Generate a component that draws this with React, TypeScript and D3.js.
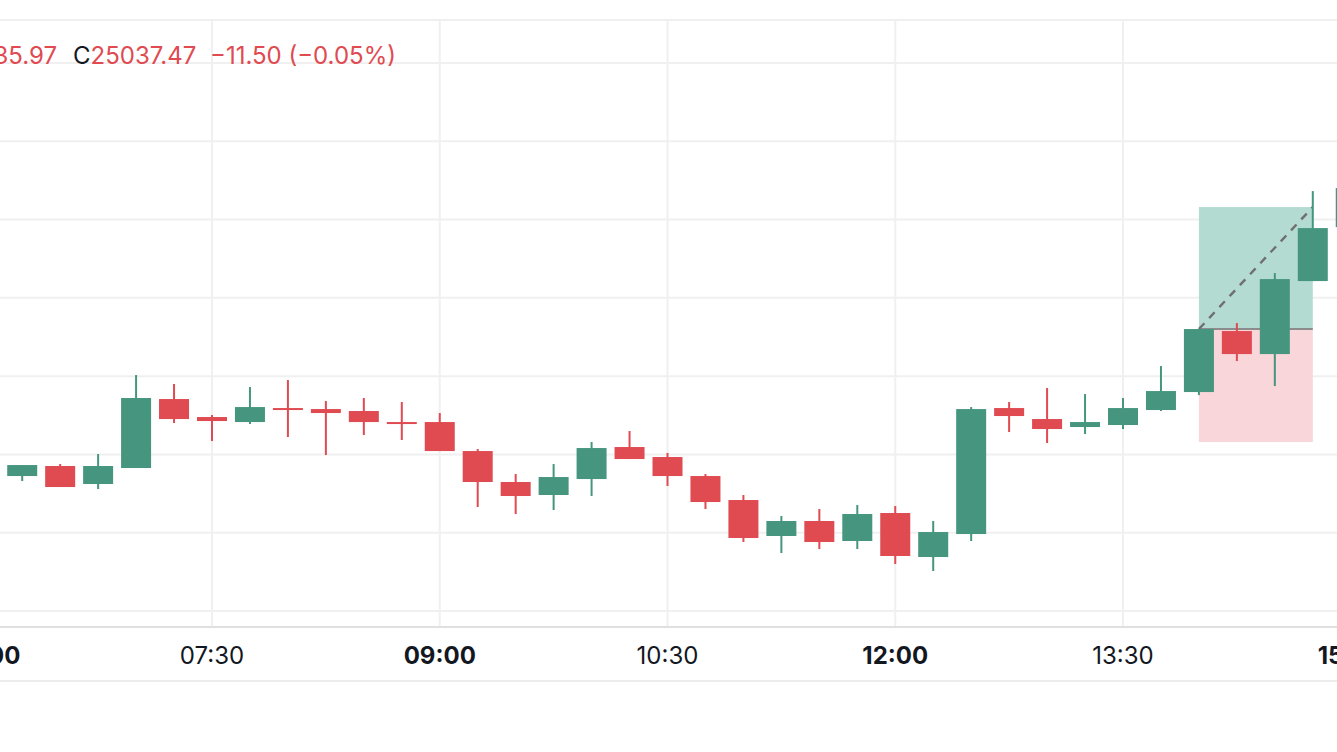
import { useEffect, useRef } from 'react'
import * as d3 from 'd3'

// 15-minute candles
const times = [
  '06:15', '06:30', '06:45', '07:00', '07:15', '07:30', '07:45', '08:00', '08:15',
  '08:30', '08:45', '09:00', '09:15', '09:30', '09:45', '10:00', '10:15', '10:30',
  '10:45', '11:00', '11:15', '11:30', '11:45', '12:00', '12:15', '12:30', '12:45',
  '13:00', '13:15', '13:30', '13:45', '14:00', '14:15', '14:30', '14:45', '15:00'
]
const opens = [
  24943.10, 24946.30, 24940.55, 24945.66, 24967.69, 24961.94, 24960.34, 24964.81, 24964.49,
  24963.86, 24960.34, 24960.34, 24951.08, 24941.19, 24937.04, 24942.14, 24952.36, 24949.17,
  24943.10, 24935.44, 24923.95, 24928.74, 24922.35, 24931.29, 24917.24, 24924.58, 24964.81,
  24961.30, 24958.75, 24959.39, 24964.18, 24969.92, 24989.40, 24982.05, 25005.36, 25022.60
]
const highs = [
  24946.61, 24946.93, 24950.13, 24975.35, 24972.48, 24962.58, 24971.52, 24973.75, 24967.05,
  24968.01, 24966.73, 24963.22, 24951.72, 24943.74, 24946.93, 24953.96, 24957.47, 24950.45,
  24943.74, 24937.04, 24930.33, 24932.57, 24933.84, 24933.52, 24928.74, 24965.13, 24966.73,
  24971.20, 24969.28, 24968.01, 24978.22, 24990.04, 24991.95, 25007.92, 25034.10, 25035.69
]
const lows = [
  24941.51, 24939.59, 24938.95, 24945.66, 24960.02, 24954.28, 24959.71, 24955.56, 24949.81,
  24956.19, 24954.60, 24951.08, 24933.21, 24930.97, 24932.25, 24936.72, 24948.53, 24939.91,
  24932.57, 24922.03, 24918.52, 24919.80, 24919.80, 24915.01, 24912.77, 24922.35, 24957.15,
  24953.64, 24956.51, 24958.11, 24963.86, 24968.96, 24979.82, 24971.84, 25005.36, 25021.96
]
const closes = [
  24946.61, 24939.59, 24946.30, 24968.01, 24961.30, 24960.66, 24965.13, 24964.18, 24963.22,
  24960.34, 24959.71, 24951.08, 24941.19, 24936.72, 24942.78, 24952.04, 24948.53, 24943.10,
  24934.80, 24923.31, 24928.74, 24922.03, 24930.97, 24917.56, 24925.22, 24964.49, 24962.26,
  24958.11, 24960.34, 24964.81, 24970.24, 24990.04, 24982.05, 25006.00, 25022.28, 25035.06
]

const gridPrices = [24900, 24925, 24950, 24975, 25000, 25025, 25050, 25075]
const tickLabels = ['06:00', '07:30', '09:00', '10:30', '12:00', '13:30', '15:00']
const majorTicks = ['06:00', '09:00', '12:00', '15:00']

// long position tool
const positionStart = '14:00'
const positionEnd = '14:45'
const entryPrice = 24990.04
const targetPrice = 25028.99
const stopPrice = 24953.96

// legend
const legendPrev = { label: 'L', value: '25035.97' }
const legendClose = { label: 'C', value: '25037.47' }
const legendChange = '\u221211.50 (\u22120.05%)'

const UP = '#46967f'
const DOWN = '#e04a51'
const FONT = 'Inter, "Noto Sans", sans-serif'

const toDate = (s: string) => {
  const [h, m] = s.split(':').map(Number)
  return new Date(2024, 0, 2, h, m)
}

export default function App() {
  const svgRef = useRef<SVGSVGElement>(null)
  const width = 1337
  const height = 752

  useEffect(() => {
    document.body.style.margin = '0'
    if (!svgRef.current) return
    const svg = d3.select(svgRef.current)
    svg.selectAll('*').remove()

    const x = d3.scaleTime([toDate('07:30'), toDate('12:00')], [212, 895.25])
    const y = d3.scaleLinear([24900, 25075], [611, 63])
    const paneTop = 20
    const axisY = 627
    const bottomY = 681
    const bodyW = 30

    const candles = times.map((t, i) => ({
      t: toDate(t),
      o: opens[i],
      h: highs[i],
      l: lows[i],
      c: closes[i]
    }))

    // grid
    const grid = svg.append('g')
    grid.append('line')
      .attr('x1', 0).attr('x2', width)
      .attr('y1', paneTop).attr('y2', paneTop)
      .attr('stroke', '#efefef').attr('stroke-width', 2)
    grid.selectAll('line.h')
      .data(gridPrices)
      .join('line')
      .attr('class', 'h')
      .attr('x1', 0).attr('x2', width)
      .attr('y1', d => y(d)).attr('y2', d => y(d))
      .attr('stroke', '#f0f0f0').attr('stroke-width', 2)
    grid.selectAll('line.v')
      .data(tickLabels)
      .join('line')
      .attr('class', 'v')
      .attr('x1', d => x(toDate(d))).attr('x2', d => x(toDate(d)))
      .attr('y1', paneTop).attr('y2', axisY)
      .attr('stroke', '#f0f0f0').attr('stroke-width', 2)

    // position tool
    const px0 = x(toDate(positionStart))
    const px1 = x(toDate(positionEnd))
    const pos = svg.append('g')
    pos.append('rect')
      .attr('x', px0).attr('width', px1 - px0)
      .attr('y', y(targetPrice)).attr('height', y(entryPrice) - y(targetPrice))
      .attr('fill', '#b3dbd1')
    pos.append('rect')
      .attr('x', px0).attr('width', px1 - px0)
      .attr('y', y(entryPrice)).attr('height', y(stopPrice) - y(entryPrice))
      .attr('fill', '#f8d6d9')
    pos.append('line')
      .attr('x1', px0).attr('x2', px1)
      .attr('y1', y(entryPrice)).attr('y2', y(entryPrice))
      .attr('stroke', '#8c8c8c').attr('stroke-width', 2)
    pos.append('line')
      .attr('x1', px0).attr('x2', px1)
      .attr('y1', y(entryPrice)).attr('y2', y(targetPrice))
      .attr('stroke', '#6f6f6f').attr('stroke-width', 2.4)
      .attr('stroke-dasharray', '8 7')

    // candles
    const g = svg.append('g')
    const cg = g.selectAll('g.candle')
      .data(candles)
      .join('g')
      .attr('class', 'candle')
      .attr('fill', d => (d.c >= d.o ? UP : DOWN))
    cg.append('rect')
      .attr('x', d => x(d.t) - 1)
      .attr('width', 2)
      .attr('y', d => y(d.h))
      .attr('height', d => Math.max(1, y(d.l) - y(d.h)))
    cg.append('rect')
      .attr('x', d => x(d.t) - bodyW / 2)
      .attr('width', bodyW)
      .attr('y', d => y(Math.max(d.o, d.c)))
      .attr('height', d => Math.max(2, Math.abs(y(d.o) - y(d.c))))

    // time axis
    const axis = svg.append('g')
    axis.append('line')
      .attr('x1', 0).attr('x2', width)
      .attr('y1', axisY).attr('y2', axisY)
      .attr('stroke', '#e0e0e0').attr('stroke-width', 2)
    axis.append('line')
      .attr('x1', 0).attr('x2', width)
      .attr('y1', bottomY).attr('y2', bottomY)
      .attr('stroke', '#ececec').attr('stroke-width', 2)
    axis.selectAll('text')
      .data(tickLabels)
      .join('text')
      .attr('x', d => x(toDate(d)))
      .attr('y', 664)
      .attr('text-anchor', 'middle')
      .attr('font-family', FONT)
      .attr('font-size', 24)
      .attr('font-weight', d => (majorTicks.includes(d) ? 700 : 400))
      .attr('fill', '#131722')
      .text(d => d)

    // legend
    const lg = svg.append('g')
      .attr('font-family', FONT)
      .attr('font-size', 24)
    const prev = lg.append('text').attr('x', 57).attr('y', 64).attr('text-anchor', 'end')
    prev.append('tspan').attr('fill', '#131722').text(legendPrev.label)
    prev.append('tspan').attr('fill', DOWN).text(legendPrev.value)
    const cl = lg.append('text').attr('x', 73).attr('y', 64)
    cl.append('tspan').attr('fill', '#131722').text(legendClose.label)
    cl.append('tspan').attr('fill', DOWN).text(legendClose.value)
    lg.append('text').attr('x', 210).attr('y', 64)
      .attr('fill', DOWN)
      .text(legendChange)
  }, [])

  return (
    <svg
      ref={svgRef}
      width={width}
      height={height}
      style={{ position: 'absolute', left: 0, top: 0, display: 'block', background: '#fff' }}
    />
  )
}
